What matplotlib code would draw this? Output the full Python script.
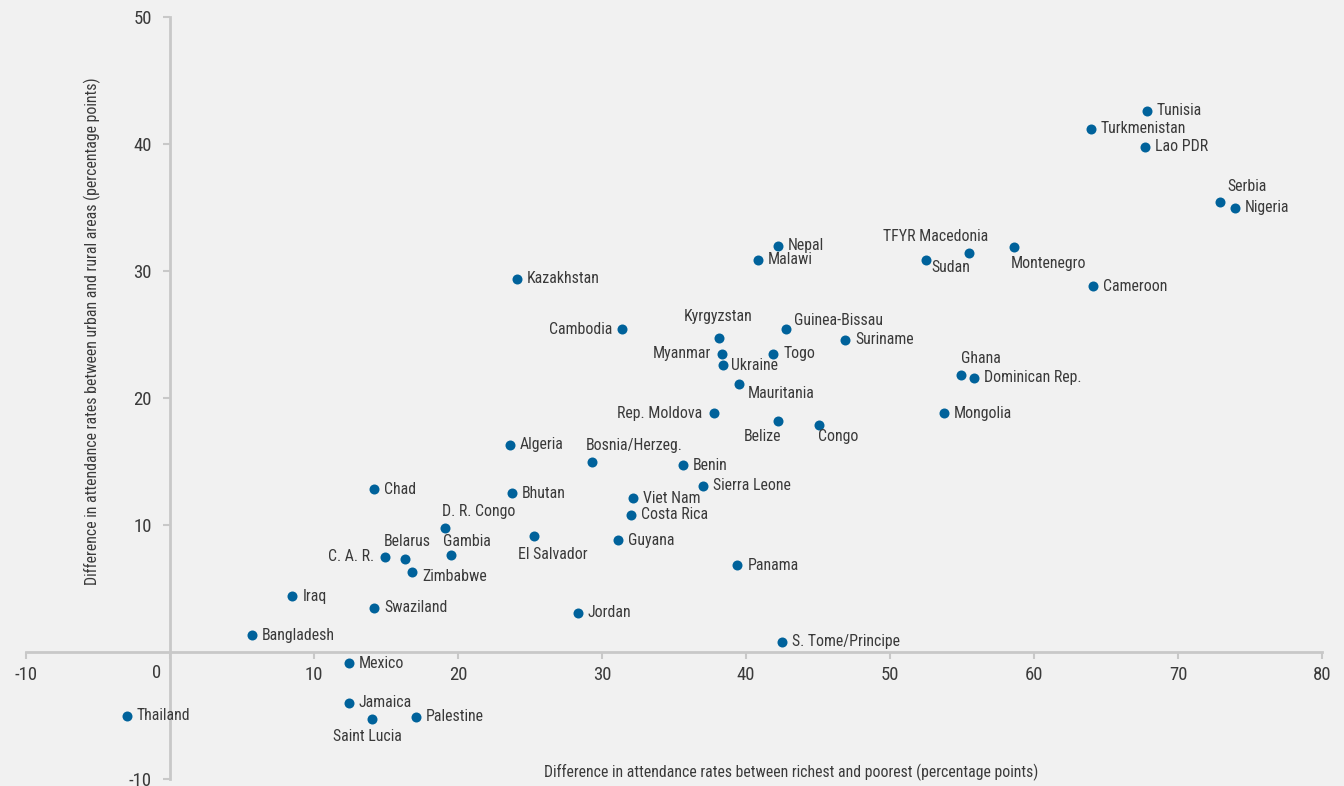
import matplotlib
matplotlib.use("Agg")
import matplotlib.pyplot as plt

plt.rcParams['font.family'] = ['Roboto Condensed', 'Liberation Sans Narrow', 'Roboto', 'DejaVu Sans']

countries = ["Tunisia", "Turkmenistan", "Lao PDR", "Serbia", "Nigeria", "TFYR Macedonia",
             "Sudan", "Montenegro", "Cameroon", "Nepal", "Malawi", "Kazakhstan", "Cambodia",
             "Kyrgyzstan", "Guinea-Bissau", "Suriname", "Myanmar", "Togo", "Ukraine",
             "Mauritania", "Ghana", "Dominican Rep.", "Mongolia", "Rep. Moldova", "Belize",
             "Congo", "Algeria", "Bosnia/Herzeg.", "Benin", "Sierra Leone", "Chad", "Bhutan",
             "Viet Nam", "Costa Rica", "D. R. Congo", "El Salvador", "Guyana", "C. A. R.",
             "Belarus", "Gambia", "Zimbabwe", "Panama", "Iraq", "Swaziland", "Jordan",
             "Bangladesh", "S. Tome/Principe", "Mexico", "Jamaica", "Thailand", "Saint Lucia",
             "Palestine"]
rich_poor = [67.85, 63.96, 67.7, 72.9, 73.96, 55.5,
             52.5, 58.6, 64.1, 42.2, 40.8, 24.1, 31.4,
             38.1, 42.8, 46.9, 38.3, 41.9, 38.4,
             39.5, 54.9, 55.8, 53.75, 37.8, 42.2,
             45.1, 23.6, 29.3, 35.6, 37.0, 14.2, 23.75,
             32.15, 32.0, 19.1, 25.3, 31.1, 14.9,
             16.3, 19.5, 16.8, 39.4, 8.5, 14.2, 28.3,
             5.7, 42.5, 12.4, 12.4, -3.0, 14.0,
             17.1]
urban_rural = [42.6, 41.2, 39.8, 35.4, 35.0, 31.4,
               30.9, 31.9, 28.8, 32.0, 30.9, 29.4, 25.4,
               24.7, 25.4, 24.6, 23.5, 23.5, 22.6,
               21.1, 21.8, 21.6, 18.8, 18.8, 18.2,
               17.9, 16.3, 15.0, 14.7, 13.1, 12.8, 12.5,
               12.1, 10.8, 9.8, 9.1, 8.8, 7.5,
               7.3, 7.6, 6.3, 6.85, 4.4, 3.5, 3.1,
               1.3, 0.8, -0.9, -4.0, -5.0, -5.3,
               -5.1]

x_ticks = [-10, 0, 10, 20, 30, 40, 50, 60, 70, 80]
y_ticks = [-10, 10, 20, 30, 40, 50]

# label placement (pixel offsets from the dot), default is to the right
label_pos = {
    "Serbia": (8, 16, "left"),
    "TFYR Macedonia": (19, 17, "right"),
    "Sudan": (5, -8, "left"),
    "Montenegro": (-3, -17, "left"),
    "Cambodia": (-10, 0, "right"),
    "Kyrgyzstan": (-1, 22, "center"),
    "Guinea-Bissau": (8, 9, "left"),
    "Myanmar": (-10, 0, "right"),
    "Ukraine": (8, -1, "left"),
    "Mauritania": (9, -9, "left"),
    "Ghana": (0, 17, "left"),
    "Rep. Moldova": (-12, 0, "right"),
    "Belize": (4, -16, "right"),
    "Congo": (-1, -12, "left"),
    "Bosnia/Herzeg.": (-6, 16, "left"),
    "D. R. Congo": (-3, 16, "left"),
    "Belarus": (3, 18, "center"),
    "C. A. R.": (-10, 0, "right"),
    "Gambia": (-8, 14, "left"),
    "El Salvador": (-16, -18, "left"),
    "Zimbabwe": (10, -5, "left"),
    "Saint Lucia": (-4, -17, "center"),
}

bg = "#f1f1f1"
axis_col = "#c8c8c8"
text_col = "#3a3a3a"
dot_col = "#00629b"

fig = plt.figure(figsize=(13.44, 7.86), dpi=100, facecolor=bg)
ax = fig.add_axes([26 / 1344, 1 - 779 / 786, 1296 / 1344, 762 / 786])
ax.set_facecolor(bg)

ax.scatter(rich_poor, urban_rural, s=52, color=dot_col, zorder=3, linewidths=0)

for name, xv, yv in zip(countries, rich_poor, urban_rural):
    dx, dy, ha = label_pos.get(name, (10, 0, "left"))
    ax.annotate(name, (xv, yv), xytext=(dx, dy), textcoords="offset pixels",
                ha=ha, va="center", fontsize=11.4, color=text_col, zorder=4)

ax.set_xlim(-10, 80)
ax.set_ylim(-10, 50)
ax.spines["left"].set_position(("data", 0))
ax.spines["bottom"].set_position(("data", 0))
ax.spines["right"].set_visible(False)
ax.spines["top"].set_visible(False)
for sp in ("left", "bottom"):
    ax.spines[sp].set_color(axis_col)
    ax.spines[sp].set_linewidth(2)

ax.set_xticks(x_ticks)
ax.set_xticklabels(["" if t == 0 else str(t) for t in x_ticks])
ax.set_yticks(y_ticks)
ax.set_yticklabels([str(t) for t in y_ticks])
ax.tick_params(axis="both", direction="out", length=5, width=1.5, color=axis_col,
               labelsize=13.5, labelcolor=text_col)
ax.tick_params(axis="x", pad=5)
ax.tick_params(axis="y", pad=8)

# the zero label sits left of the vertical axis
ax.annotate("0", (0, 0), xytext=(-13, -12), textcoords="offset pixels",
            ha="center", va="top", fontsize=13.5, color=text_col)

fig.text(791 / 1344, 1 - 772 / 786,
         "Difference in attendance rates between richest and poorest (percentage points)",
         ha="center", va="center", fontsize=11.35, color=text_col)
fig.text(92 / 1344, 1 - 331 / 786,
         "Difference in attendance rates between urban and rural areas (percentage points)",
         ha="center", va="center", rotation=90, fontsize=11.4, color=text_col)

fig.savefig("out.png", dpi=100, facecolor=bg)
